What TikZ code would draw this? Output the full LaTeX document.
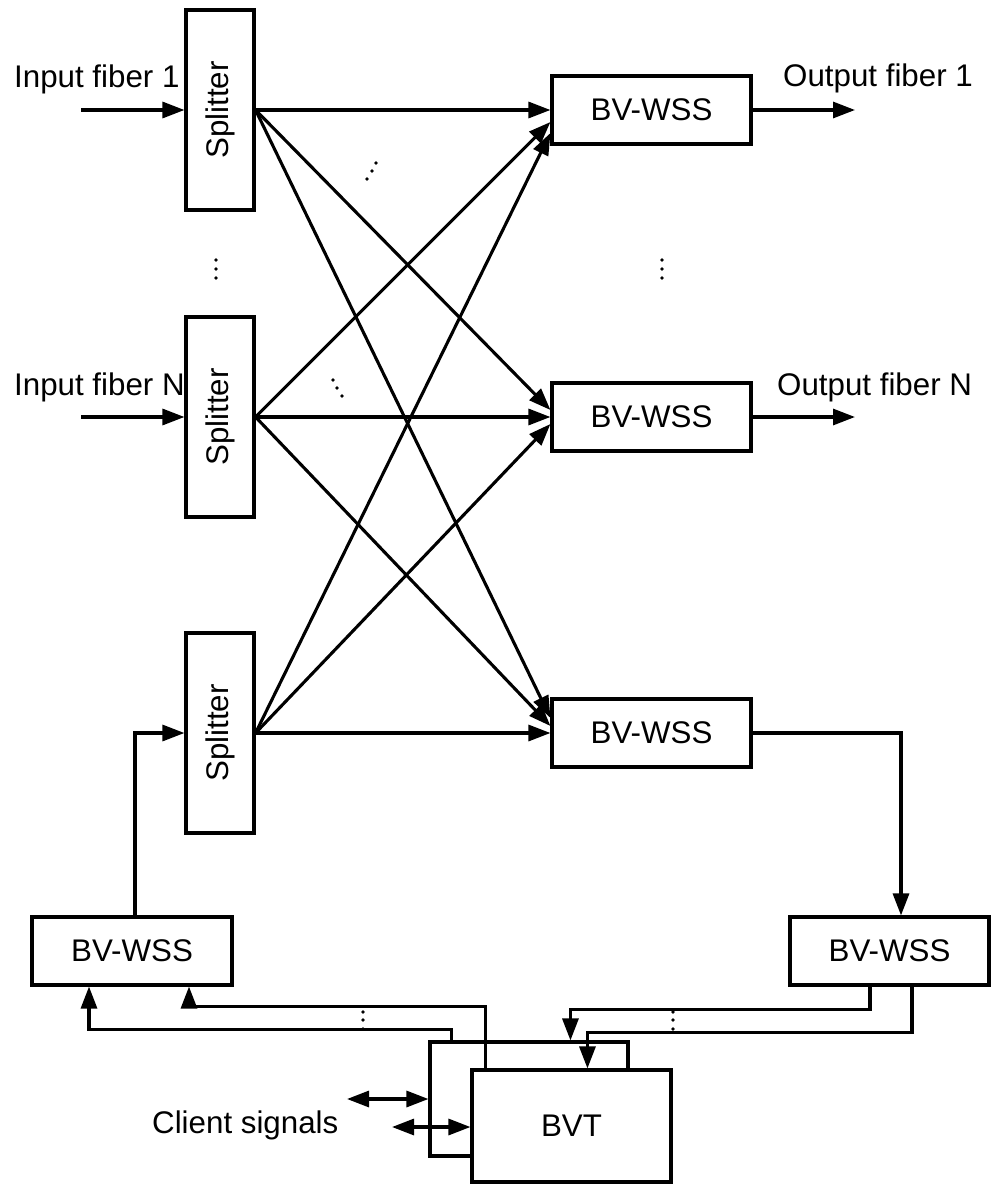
\documentclass[tikz,border=0pt]{standalone}
\usepackage{fontspec}
\setmainfont{Liberation Sans}
\usetikzlibrary{arrows.meta,calc}
\begin{document}
\begin{tikzpicture}[x=1pt,y=-1pt,
  every node/.style={font=\fontsize{31.3}{37}\selectfont, inner sep=0pt},
  box/.style={draw, line width=3.1pt, fill=white, inner sep=0pt},
  wss/.style={box, minimum width=199pt, minimum height=68pt},
  split/.style={box, minimum width=68pt, minimum height=200pt},
  link/.style={line width=3.1pt},
  arr/.style={link, -{Triangle[length=22pt,width=16pt]}},
  darr/.style={link, {Triangle[length=22pt,width=16pt]}-{Triangle[length=22pt,width=16pt]}}
]
\useasboundingbox (0,0) rectangle (991,1185);

% splitters
\node[split] (s1) at (220,110) {\rotatebox{90}{Splitter}};
\node[split] (s2) at (220,417) {\rotatebox{90}{Splitter}};
\node[split] (s3) at (220,733) {\rotatebox{90}{Splitter}};

% wavelength selective switches
\node[wss] (w1) at (651.5,110) {BV-WSS};
\node[wss] (w2) at (651.5,417) {BV-WSS};
\node[wss] (w3) at (651.5,733) {BV-WSS};
\node[wss, minimum width=200pt] (wl) at (132,951) {BV-WSS};
\node[wss] (wr) at (889.5,951) {BV-WSS};

% transceiver stack
\node[box, minimum width=198pt, minimum height=114pt] (bvb) at (529,1099) {};
\node[box, minimum width=199pt, minimum height=112pt] (bvf) at (571.5,1126) {BVT};

% fibre labels
\node[anchor=base west] (lin1) at (14,88) {Input fiber 1};
\node[anchor=base west] (linN) at (14,395) {Input fiber N};
\node[anchor=base west] (lout1) at (783,87) {Output fiber 1};
\node[anchor=base west] (loutN) at (777,395) {Output fiber N};
\node[anchor=base west] (lcli) at (152,1133) {Client signals};

% input and output fibres
\coordinate (in1) at (81,110);
\coordinate (inN) at (81,417);
\coordinate (out1) at (855,110);
\coordinate (outN) at (855,417);
\draw[arr] (in1) -- (s1.west);
\draw[arr] (inN) -- (s2.west);
\draw[arr] (w1.east) -- (out1);
\draw[arr] (w2.east) -- (outN);

% broadcast mesh
\draw[arr] (s1.east) -- (w1.west);
\draw[arr] (s2.east) -- ($(w1.west)+(0,12)$);
\draw[arr] (s3.east) -- ($(w1.west)+(0,23)$);
\draw[arr] (s1.east) -- ($(w2.west)+(0,-7)$);
\draw[arr] (s2.east) -- (w2.west);
\draw[arr] (s3.east) -- ($(w2.west)+(0,7)$);
\draw[arr] (s1.east) -- ($(w3.west)+(0,-15)$);
\draw[arr] (s2.east) -- ($(w3.west)+(0,-7)$);
\draw[arr] (s3.east) -- (w3.west);

% add / drop loop
\draw[arr] ($(wl.north)+(3,0)$) |- (s3.west);
\draw[arr] (w3.east) -| ($(wr.north)+(11.5,0)$);

% add paths from the transceivers
\draw[arr] ($(bvb.north west)+(23,0)$) -- ++(0,-11) -| ($(wl.south)+(-43,0)$);
\draw[arr] ($(bvf.north west)+(15,0)$) -- ++(0,-62) -| ($(wl.south)+(57,0)$);

% drop paths to the transceivers
\draw[arr] ($(wr.south)+(-19.5,0)$) -- ++(0,23) -| ($(bvb.north west)+(142,0)$);
\draw[arr] ($(wr.south)+(22.5,0)$) -- ++(0,46) -| ($(bvf.north west)+(117,0)$);

% client side
\coordinate (c1) at (347,1099);
\coordinate (c2) at (392,1127);
\draw[darr] (c1) -- (bvb.west);
\draw[darr] (c2) -- (c2 -| bvf.west);

% ellipsis marks
\foreach \px/\py in {216/260, 216/269, 216/278,
                     662/260, 662/269, 662/278,
                     376/163, 372/171, 367/179,
                     333/380, 337/388, 342/396,
                     363/1012, 363/1020, 363/1029,
                     673/1012, 673/1020, 673/1029}
  \fill (\px,\py) circle (1.9pt);

\end{tikzpicture}
\end{document}
